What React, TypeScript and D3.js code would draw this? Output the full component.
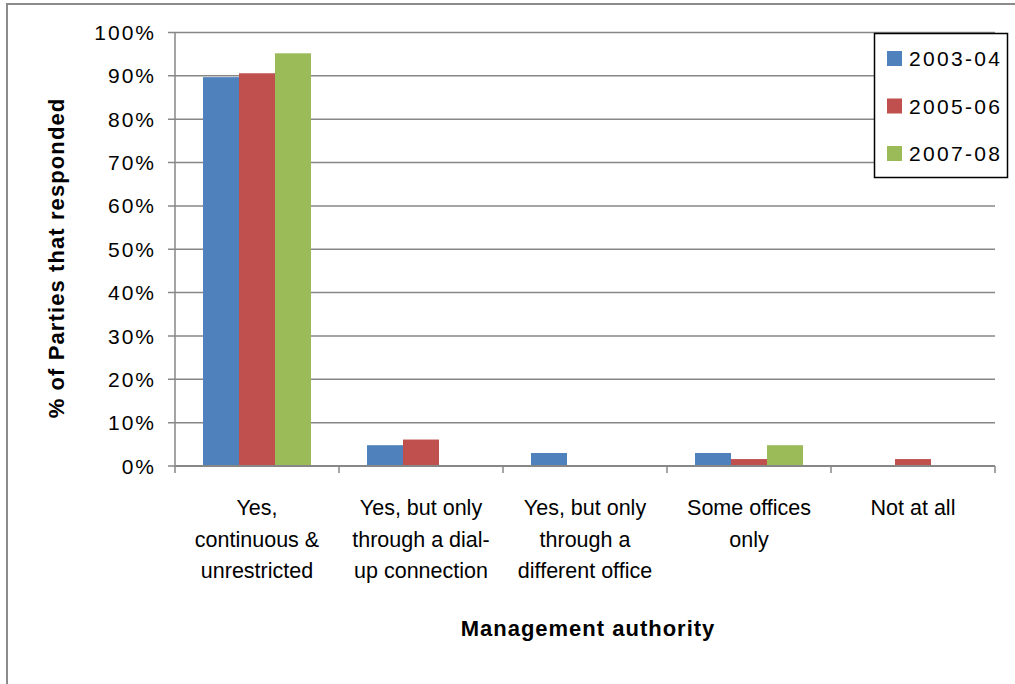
import React from "react";
import * as d3 from "d3";

const categories = [
  ["Yes,", "continuous &", "unrestricted"],
  ["Yes, but only", "through a dial-", "up connection"],
  ["Yes, but only", "through a", "different office"],
  ["Some offices", "only"],
  ["Not at all"],
];
const categoryKeys = ["c1", "c2", "c3", "c4", "c5"];
const seriesNames = ["2003-04", "2005-06", "2007-08"];
const values2003 = [89.7, 4.8, 3.0, 3.0, 0];
const values2005 = [90.6, 6.1, 0, 1.6, 1.6];
const values2007 = [95.2, 0, 0, 4.8, 0];
const seriesValues = [values2003, values2005, values2007];
const colors = ["#4f81bd", "#c0504d", "#9bbb59"];
const yTicks = [0, 10, 20, 30, 40, 50, 60, 70, 80, 90, 100];

const W = 1015;
const H = 684;
const left = 175;
const right = 995;
const top = 32.5;
const bottom = 466;
const font = "'Liberation Sans', Arial, sans-serif";
const grid = "#878787";

export default function App() {
  const x = d3.scaleBand<string>().domain(categoryKeys).range([left, right]).padding(0);
  const x1 = d3
    .scaleBand<string>()
    .domain(seriesNames)
    .range([0, x.bandwidth()])
    .paddingInner(0)
    .paddingOuter(0.778);
  const y = d3.scaleLinear().domain([0, 100]).range([bottom, top]);

  return (
    <svg
      width={W}
      height={H}
      style={{ position: "absolute", left: 0, top: 0, background: "#fff" }}
      fontFamily={font}
    >
      <rect x={7} y={4} width={1100} height={800} fill="#fff" stroke="#8c8c8c" strokeWidth={2} />
      {yTicks.map((t) => (
        <line
          key={"g" + t}
          x1={left - 7}
          x2={right}
          y1={y(t)}
          y2={y(t)}
          stroke={grid}
          strokeWidth={1.5}
        />
      ))}
      <line x1={left} x2={left} y1={top} y2={bottom} stroke={grid} strokeWidth={1.5} />
      {yTicks.map((t) => (
        <text
          key={"t" + t}
          x={156}
          y={y(t)}
          dy="0.36em"
          textAnchor="end"
          fontSize={21}
          letterSpacing={2}
          fill="#000"
        >
          {t + "%"}
        </text>
      ))}
      {categoryKeys.map((c, ci) => (
        <g key={c} transform={`translate(${x(c)},0)`}>
          {seriesNames.map((s, si) => {
            const v = seriesValues[si][ci];
            if (!v) return null;
            return (
              <rect
                key={s}
                x={x1(s)}
                y={y(v)}
                width={x1.bandwidth()}
                height={bottom - y(v)}
                fill={colors[si]}
              />
            );
          })}
        </g>
      ))}
      <line x1={left} x2={right} y1={bottom} y2={bottom} stroke={grid} strokeWidth={2} />
      {[...categoryKeys.map((c) => x(c)!), right].map((px, i) => (
        <line key={"xt" + i} x1={px} x2={px} y1={bottom} y2={bottom + 7} stroke={grid} strokeWidth={1.5} />
      ))}
      {categoryKeys.map((c, ci) => (
        <text
          key={"cl" + c}
          x={x(c)! + x.bandwidth() / 2}
          y={515}
          textAnchor="middle"
          fontSize={21.5}
          fill="#000"
        >
          {categories[ci].map((line, li) => (
            <tspan key={li} x={x(c)! + x.bandwidth() / 2} y={515 + li * 31.5}>
              {line}
            </tspan>
          ))}
        </text>
      ))}
      <text
        x={588}
        y={636}
        textAnchor="middle"
        fontSize={22}
        letterSpacing={1}
        fontWeight="bold"
        fill="#000"
      >
        Management authority
      </text>
      <text
        transform={`translate(64,258) rotate(-90)`}
        textAnchor="middle"
        fontSize={22}
        letterSpacing={1.1}
        fontWeight="bold"
        fill="#000"
      >
        % of Parties that responded
      </text>
      <rect x={874.5} y={33.5} width={133} height={144} fill="#fff" stroke="#000" strokeWidth={1.5} />
      {seriesNames.map((s, si) => {
        const cy = 58.5 + si * 47.5;
        return (
          <g key={"lg" + s}>
            <rect x={887} y={cy - 7.5} width={15} height={15} fill={colors[si]} />
            <text x={909} y={cy} dy="0.36em" fontSize={21} letterSpacing={2.3} fill="#000">
              {s}
            </text>
          </g>
        );
      })}
    </svg>
  );
}
